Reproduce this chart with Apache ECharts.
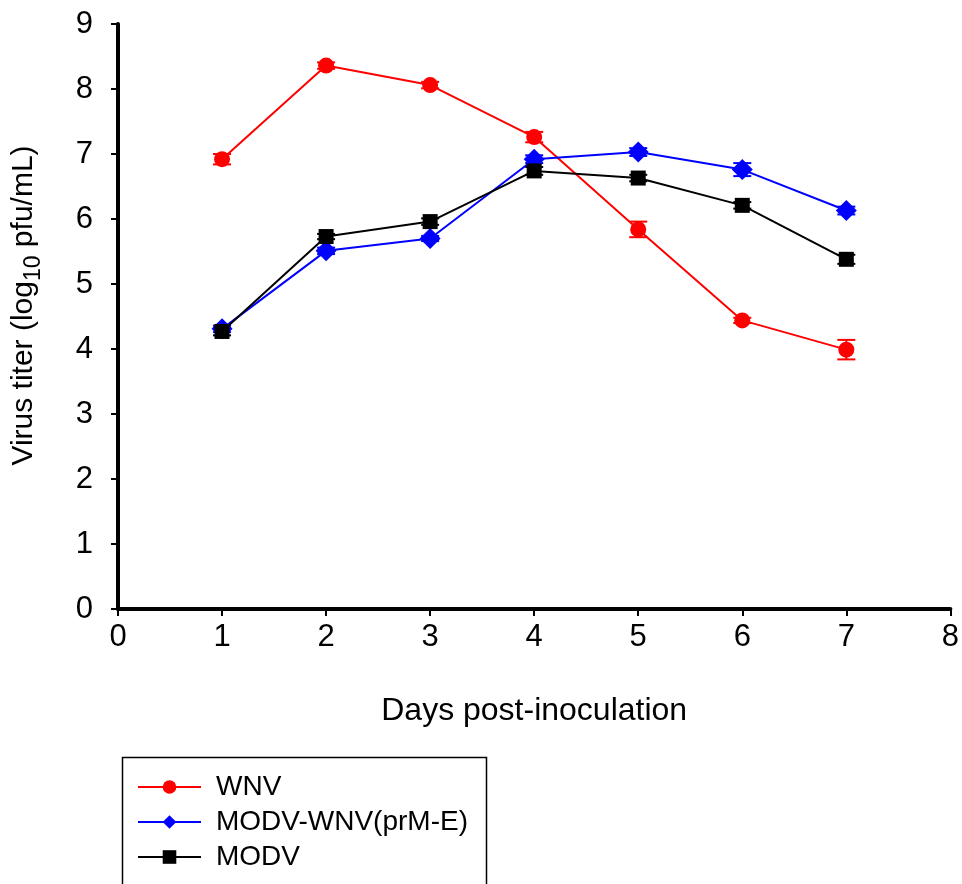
<!DOCTYPE html>
<html>
<head>
<meta charset="utf-8">
<script src="https://cdn.jsdelivr.net/npm/echarts@6/dist/echarts.min.js"></script>
<style>
  html, body { margin: 0; padding: 0; background: #fff; }
  #chart { width: 962px; height: 884px; }
</style>
</head>
<body>
<div id="chart"></div>
<script>
// days post-inoculation
var days = [1, 2, 3, 4, 5, 6, 7];

// virus titer (log10 pfu/mL) and error (+/-)
var wnv = [6.92, 8.36, 8.06, 7.26, 5.84, 4.44, 3.99];
var wnvErr = [0.08, 0.05, 0.05, 0.08, 0.12, 0.04, 0.15];
var modvWnv = [4.31, 5.51, 5.70, 6.92, 7.03, 6.76, 6.13];
var modvWnvErr = [0.05, 0.05, 0.04, 0.06, 0.06, 0.1, 0.06];
var modv = [4.27, 5.73, 5.96, 6.74, 6.63, 6.21, 5.38];
var modvErr = [0.06, 0.04, 0.05, 0.06, 0.05, 0.05, 0.07];

var names = ['WNV', 'MODV-WNV(prM-E)', 'MODV'];
var colors = ['#ff0000', '#0000ff', '#000000'];

var chartDom = document.getElementById('chart');
var myChart = echarts.init(chartDom);
var option;

function pairs(vals) {
  return days.map(function (d, i) { return [d, vals[i]]; });
}

function errData(vals, errs) {
  return days.map(function (d, i) { return [d, vals[i] - errs[i], vals[i] + errs[i]]; });
}

function errSeries(vals, errs, color) {
  return {
    type: 'custom',
    silent: true,
    z: 1,
    data: errData(vals, errs),
    renderItem: function (params, api) {
      var lo = api.coord([api.value(0), api.value(1)]);
      var hi = api.coord([api.value(0), api.value(2)]);
      var w = 9;
      var st = { stroke: color, lineWidth: 2 };
      return {
        type: 'group',
        children: [
          { type: 'line', shape: { x1: lo[0], y1: lo[1], x2: hi[0], y2: hi[1] }, style: st },
          { type: 'line', shape: { x1: lo[0] - w, y1: lo[1], x2: lo[0] + w, y2: lo[1] }, style: st },
          { type: 'line', shape: { x1: hi[0] - w, y1: hi[1], x2: hi[0] + w, y2: hi[1] }, style: st }
        ]
      };
    }
  };
}

function lineSeries(name, vals, color, symbol, size) {
  return {
    name: name,
    type: 'line',
    data: pairs(vals),
    symbol: symbol,
    symbolSize: size,
    z: 3,
    lineStyle: { color: color, width: 2 },
    itemStyle: { color: color },
    emphasis: { disabled: true }
  };
}

var fontName = 'Liberation Sans, Arial, sans-serif';
var axisFont = { fontFamily: fontName, fontSize: 31, color: '#000' };

option = {
  animation: false,
  grid: { left: 118, right: 10, top: 24, bottom: 275, containLabel: false },
  graphic: [
    {
      type: 'rect',
      left: 120,
      top: 755,
      shape: { width: 364, height: 200 },
      style: { fill: 'none', stroke: '#000', lineWidth: 1.5 },
      silent: true
    }
  ],
  legend: {
    data: names,
    orient: 'vertical',
    left: 137,
    top: 773,
    padding: 0,
    itemWidth: 63,
    itemHeight: 17,
    itemGap: 7,
    textStyle: { fontFamily: fontName, fontSize: 28, color: '#000', padding: [0, 0, 0, 10] }
  },
  xAxis: {
    type: 'value',
    min: 0,
    max: 8,
    interval: 1,
    name: 'Days post-inoculation',
    nameLocation: 'middle',
    nameGap: 86,
    nameTextStyle: { fontFamily: fontName, fontSize: 32, color: '#000' },
    axisLine: { onZero: false, lineStyle: { color: '#000', width: 4 } },
    axisTick: { show: true, length: 7, lineStyle: { color: '#000', width: 2 } },
    axisLabel: Object.assign({ margin: 13 }, axisFont),
    splitLine: { show: false }
  },
  yAxis: {
    type: 'value',
    min: 0,
    max: 9,
    interval: 1,
    name: '{a|Virus titer (log}{s|10}{a| pfu/mL)}',
    nameLocation: 'middle',
    nameGap: 73,
    nameTextStyle: {
      padding: [0, 0, 0, 22],
      rich: {
        a: { fontFamily: fontName, fontSize: 30, color: '#000', lineHeight: 42, verticalAlign: 'middle' },
        s: { fontFamily: fontName, fontSize: 23, color: '#000', lineHeight: 23, verticalAlign: 'bottom' }
      }
    },
    axisLine: { onZero: false, lineStyle: { color: '#000', width: 4 } },
    axisTick: { show: true, length: 7, lineStyle: { color: '#000', width: 2 } },
    axisLabel: Object.assign({ margin: 25 }, axisFont),
    splitLine: { show: false }
  },
  series: [
    errSeries(wnv, wnvErr, colors[0]),
    errSeries(modvWnv, modvWnvErr, colors[1]),
    errSeries(modv, modvErr, colors[2]),
    lineSeries(names[0], wnv, colors[0], 'circle', 16),
    lineSeries(names[1], modvWnv, colors[1], 'diamond', 21),
    lineSeries(names[2], modv, colors[2], 'rect', 15)
  ]
};

option && myChart.setOption(option);
</script>
</body>
</html>
